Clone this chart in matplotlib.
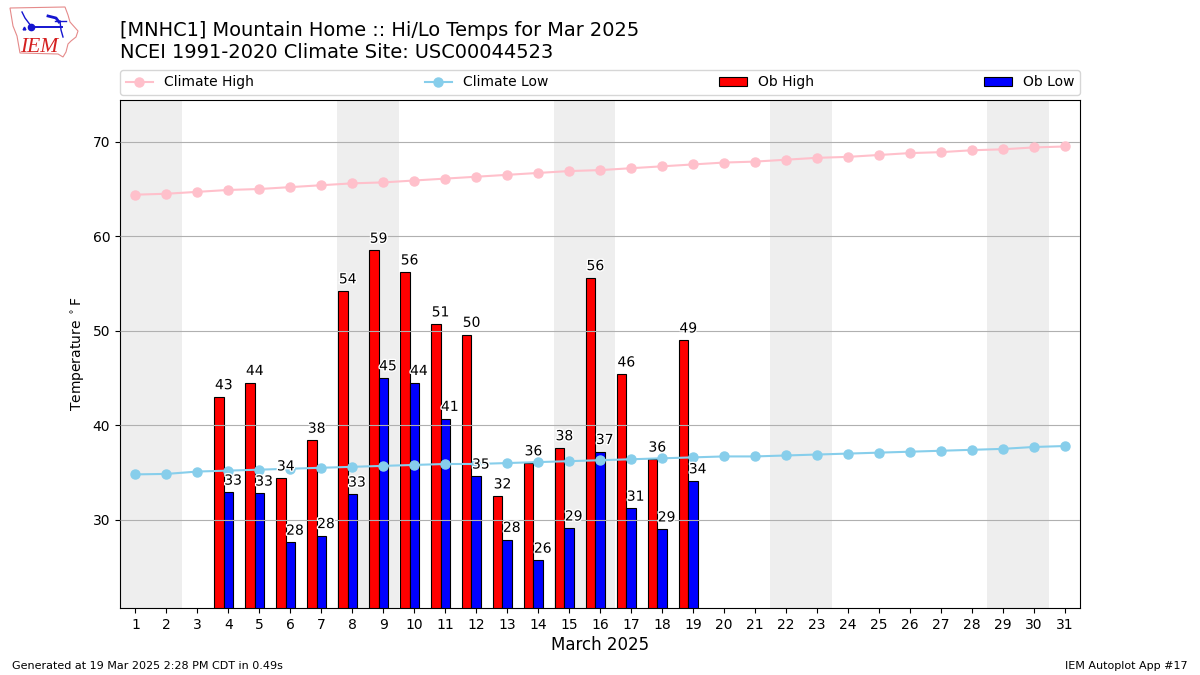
import matplotlib
matplotlib.use("Agg")
import matplotlib.pyplot as plt
import matplotlib.patheffects as pe
from matplotlib.patches import Polygon

days = list(range(1, 32))
climate_high = [64.4, 64.5, 64.7, 64.9, 65.0, 65.2, 65.4, 65.6, 65.7, 65.9, 66.1,
                66.3, 66.5, 66.7, 66.9, 67.0, 67.2, 67.4, 67.6, 67.8, 67.9, 68.1,
                68.3, 68.4, 68.6, 68.8, 68.9, 69.1, 69.2, 69.4, 69.5]
climate_low = [34.8, 34.85, 35.1, 35.2, 35.3, 35.4, 35.5, 35.6, 35.7, 35.8, 35.9,
               35.9, 36.0, 36.1, 36.2, 36.3, 36.4, 36.5, 36.6, 36.7, 36.7, 36.8,
               36.9, 37.0, 37.1, 37.2, 37.3, 37.4, 37.5, 37.7, 37.8]
ob_days = list(range(4, 20))
ob_high = [43.0, 44.5, 34.4, 38.4, 54.2, 58.5, 56.2, 50.7, 49.6, 32.5, 36.0, 37.6,
           55.6, 45.4, 36.4, 49.0]
ob_low = [32.9, 32.8, 27.6, 28.3, 32.7, 45.0, 44.5, 40.7, 34.6, 27.9, 25.7, 29.1,
          37.2, 31.2, 29.0, 34.1]
high_labels = ["43", "44", "34", "38", "54", "59", "56", "51", "50", "32", "36", "38",
               "56", "46", "36", "49"]
low_labels = ["33", "33", "28", "28", "33", "45", "44", "41", "35", "28", "26", "29",
              "37", "31", "29", "34"]
weekends = [(1, 2), (8, 9), (15, 16), (22, 23), (29, 30)]

W, H = 1200, 675
fig = plt.figure(figsize=(12, 6.75), dpi=100)
ax = fig.add_axes([120 / W, 1 - 608 / H, 960 / W, 508 / H])

for a, b in weekends:
    ax.axvspan(a - 0.5, b + 0.5, color="#EEEEEE", lw=0, zorder=0)

ax.bar([d - 0.3 for d in ob_days], ob_high, width=0.3, color="red", edgecolor="k",
       linewidth=0.8, label="Ob High", zorder=2)
ax.bar(ob_days, ob_low, width=0.3, color="blue", edgecolor="k",
       linewidth=0.8, label="Ob Low", zorder=2)
ax.grid(axis="y", color="#B0B0B0", linewidth=0.8, zorder=2.5)
ax.set_axisbelow(False)
ax.xaxis.grid(False)
ax.plot(days, climate_high, color="pink", marker="o", markersize=6.5, lw=1.5,
        label="Climate High", zorder=3)
ax.plot(days, climate_low, color="skyblue", marker="o", markersize=6.5, lw=1.5,
        label="Climate Low", zorder=3)

effects = [pe.withStroke(linewidth=2, foreground="white")]
for d, v, s in zip(ob_days, ob_high, high_labels):
    ax.text(d - 0.15, v + 0.5, s, ha="center", va="bottom", fontsize=10,
            path_effects=effects, zorder=4)
for d, v, s in zip(ob_days, ob_low, low_labels):
    ax.text(d + 0.15, v + 0.5, s, ha="center", va="bottom", fontsize=10,
            path_effects=effects, zorder=4)

ax.set_xlim(0.5, 31.5)
ax.set_ylim(20.66, 74.42)
ax.set_xticks(days)
ax.set_yticks([30, 40, 50, 60, 70])
ax.tick_params(labelsize=10)
ax.set_xlabel("March 2025", fontsize=12, labelpad=3)
ax.set_ylabel(r"Temperature $^\circ$F", fontsize=10)

handles, labels = ax.get_legend_handles_labels()
order = [labels.index(n) for n in ["Climate High", "Climate Low", "Ob High", "Ob Low"]]
ax.legend([handles[i] for i in order], [labels[i] for i in order], ncol=4, mode="expand",
          loc="lower left", bbox_to_anchor=(0, 1 + 5 / 508, 1, 0.05), borderaxespad=0, fontsize=10)

fig.text(120 / W, 1 - 61.5 / H, "[MNHC1] Mountain Home :: Hi/Lo Temps for Mar 2025\n"
         "NCEI 1991-2020 Climate Site: USC00044523", fontsize=13.98, ha="left", va="bottom",
         linespacing=1.2)
fig.text(12 / W, 1 - 671 / H, "Generated at 19 Mar 2025 2:28 PM CDT in 0.49s",
         fontsize=8, ha="left", va="bottom")
fig.text(1188 / W, 1 - 671 / H, "IEM Autoplot App #17", fontsize=8, ha="right", va="bottom")

# Small logo sketch, in image pixels
logo = fig.add_axes([0, 1 - 60 / H, 90 / W, 60 / H])
logo.set_xlim(0, 90)
logo.set_ylim(60, 0)
logo.axis("off")
logo.add_patch(Polygon([(10, 8), (65, 7), (68, 15), (70, 22), (78, 31), (76, 37), (71, 41),
                        (68, 44), (66, 52), (63, 57), (58, 54), (20, 53), (17, 36), (13, 26)],
                       fill=False, edgecolor="#E58A8A", lw=0.8))
logo.plot([31, 62], [26.5, 26.5], color="#1515D0", lw=1.4)
logo.plot([31], [26.5], "o", color="#1515D0", ms=4.5)
logo.plot([22, 25, 31], [12, 18, 26], color="#1515D0", lw=1)
logo.plot([48, 56, 59], [16, 18, 22], color="#1515D0", lw=2)
logo.plot([55, 66], [21, 21], color="#1515D0", lw=1)
logo.plot([60, 61, 63], [21, 30, 37], color="#1515D0", lw=1)
logo.plot([24], [28], "^", color="#1515D0", ms=2)
logo.text(20, 52, "IEM", color="#D42020", fontsize=15.5, family="Liberation Serif",
          style="italic", ha="left", va="baseline")

fig.savefig("out.png", dpi=100)
